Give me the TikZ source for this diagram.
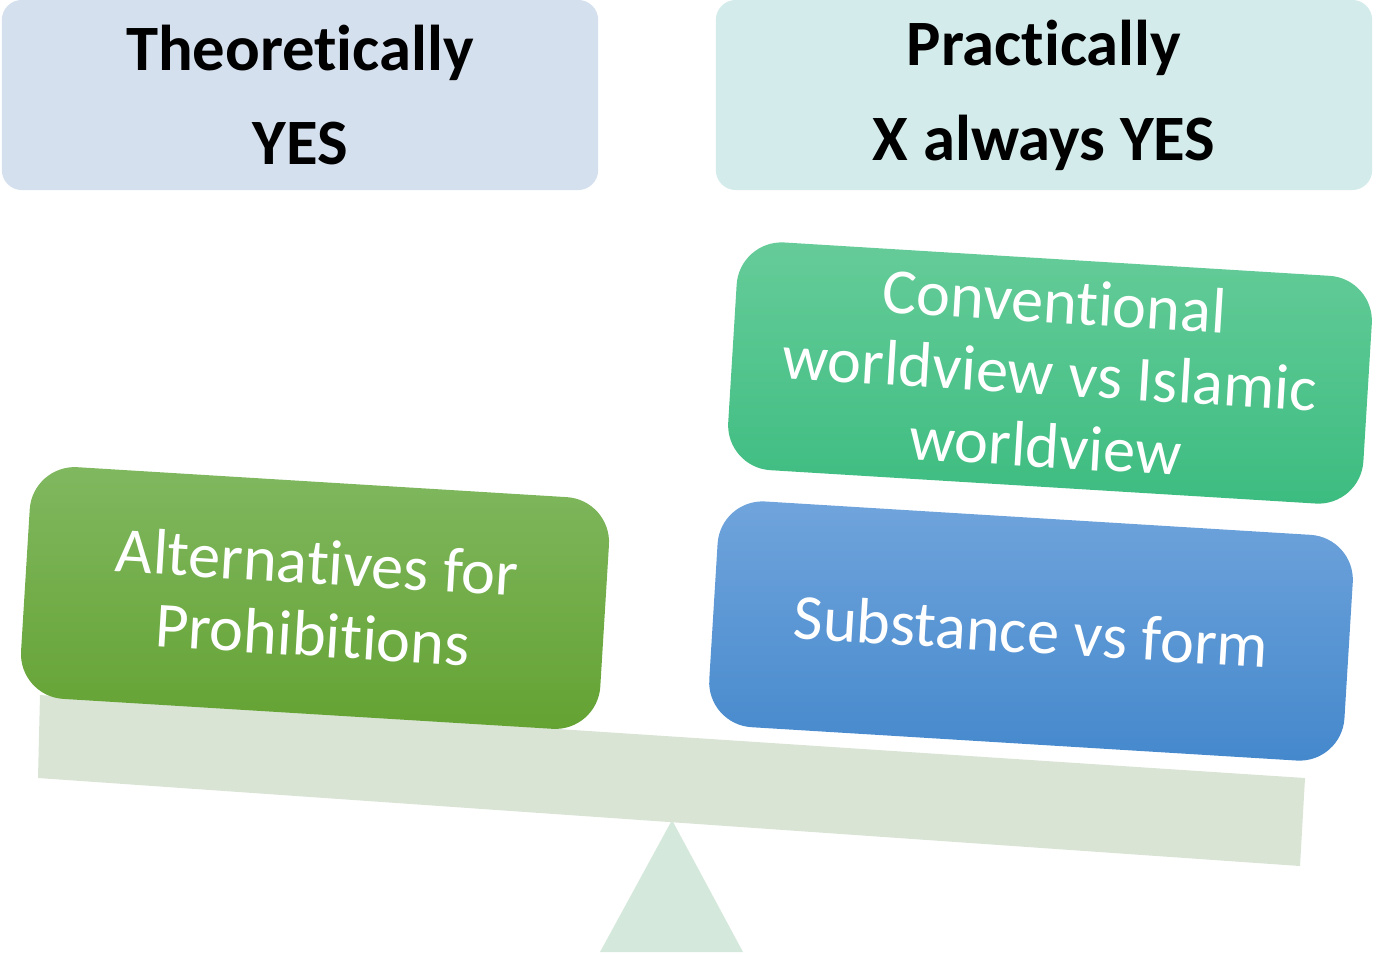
\documentclass[tikz,border=0pt]{standalone}
\usepackage{fontspec}
\setmainfont[Ligatures=NoCommon]{Carlito}

\definecolor{headblue}{HTML}{D5E0EE}
\definecolor{headteal}{HTML}{D4EBEB}
\definecolor{beamgrey}{HTML}{D9E4D5}
\definecolor{pivotgreen}{HTML}{D5E8DC}
\definecolor{greentop}{HTML}{80B860}
\definecolor{greenbot}{HTML}{64A232}
\definecolor{tealtop}{HTML}{66CC99}
\definecolor{tealbot}{HTML}{3CBC80}
\definecolor{bluetop}{HTML}{70A4DC}
\definecolor{bluebot}{HTML}{4488CC}

\begin{document}
\begin{tikzpicture}[
    x=0.01cm, y=-0.01cm,
    head/.style={rectangle, rounded corners=0.2cm, minimum width=5.96cm, minimum height=1.9cm,
                 align=center, font=\fontsize{18.4}{27}\selectfont\bfseries},
    weight/.style={rectangle, rounded corners=0.45cm, rotate=-3.5, align=center, text=white,
                   font=\fontsize{18.3}{20.6}\selectfont},
    greenw/.style={weight, top color=greentop, bottom color=greenbot},
    tealw/.style={weight, top color=tealtop, bottom color=tealbot},
    bluew/.style={weight, top color=bluetop, bottom color=bluebot}
]
\useasboundingbox (0,0) rectangle (1374,954);

% the scale: pivot and beam
\fill[pivotgreen] (600,952) -- (672,820) -- (743,952) -- cycle;
\fill[beamgrey] (40,695) -- (1305,778) -- (1300,866) -- (38,778) -- cycle;

% headings
\node[head, fill=headblue] (theory) at (300,95) {Theoretically\\YES};
\node[head, fill=headteal, minimum width=6.56cm] (practice) at (1044,95) {Practically\\X always YES};

% weights on the pans
\node[greenw, minimum width=5.8cm, minimum height=2.32cm] (alt) at (315,598) {Alternatives for\\Prohibitions};
\node[tealw, minimum width=6.36cm, minimum height=2.28cm] (world) at (1050,373) {Conventional\\worldview vs Islamic\\worldview};
\node[bluew, minimum width=6.36cm, minimum height=2.26cm] (form) at (1031,631) {Substance vs form};

\end{tikzpicture}
\end{document}
